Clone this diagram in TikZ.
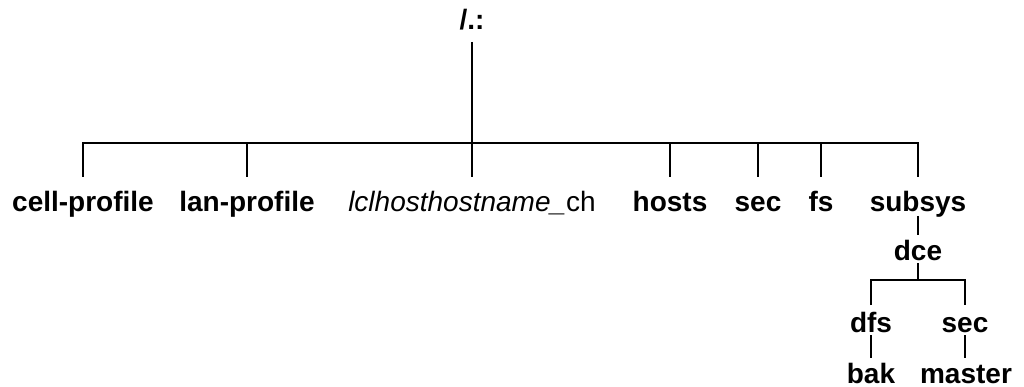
\documentclass[tikz,border=0pt]{standalone}
\usepackage{fontspec}
\setmainfont{Liberation Sans}
\begin{document}
\begin{tikzpicture}[x=1pt,y=-1pt,
  lbl/.style={inner sep=0pt,outer sep=0pt,anchor=base,font=\fontsize{28}{33}\selectfont\bfseries},
  ital/.style={inner sep=0pt,outer sep=0pt,anchor=base,font=\fontsize{28}{33}\selectfont},
  ln/.style={line width=1.4pt,line cap=butt}]
\useasboundingbox (0,0) rectangle (1024,387);
% nodes
\node[lbl] (root) at (472,30) {/.:};
\node[lbl] (cell) at (83,212) {cell-profile};
\node[lbl] (lan) at (247,212) {lan-profile};
\node[ital] (lcl) at (472,212) {\textit{lclhosthostname\_}ch};
\node[lbl] (hosts) at (670,212) {hosts};
\node[lbl] (sec) at (758,212) {sec};
\node[lbl] (fs) at (821,212) {fs};
\node[lbl] (sub) at (918,212) {subsys};
\node[lbl] (dce) at (918,260) {dce};
\node[lbl] (dfs) at (871,332) {dfs};
\node[lbl] (dsec) at (965,332) {sec};
\node[lbl] (bak) at (871,383) {bak};
\node[lbl] (master) at (966,383) {master};
% connectors
\draw[ln] ([yshift=-12pt]root.base) -- ([yshift=35pt]lcl.base);
\draw[ln] ([yshift=35pt]cell.base) |- ([yshift=69pt]lcl.base) -| ([yshift=35pt]sub.base);
\foreach \n in {lan,hosts,sec,fs}
  \draw[ln] ([yshift=69pt]\n.base) -- ([yshift=35pt]\n.base);
\draw[ln] ([yshift=-4pt]sub.base) -- ([yshift=25pt]dce.base);
\coordinate (dbus) at ([yshift=-20pt]dce.base);
\draw[ln] ([yshift=-3pt]dce.base) -- (dbus);
\draw[ln] ([yshift=27pt]dfs.base) |- (dbus) -| ([yshift=27pt]dsec.base);
\draw[ln] ([yshift=-3pt]dfs.base) -- ([yshift=25pt]bak.base);
\draw[ln] ([yshift=-3pt]dsec.base) -- ([yshift=25pt]dsec.base |- master.base);
\end{tikzpicture}
\end{document}
